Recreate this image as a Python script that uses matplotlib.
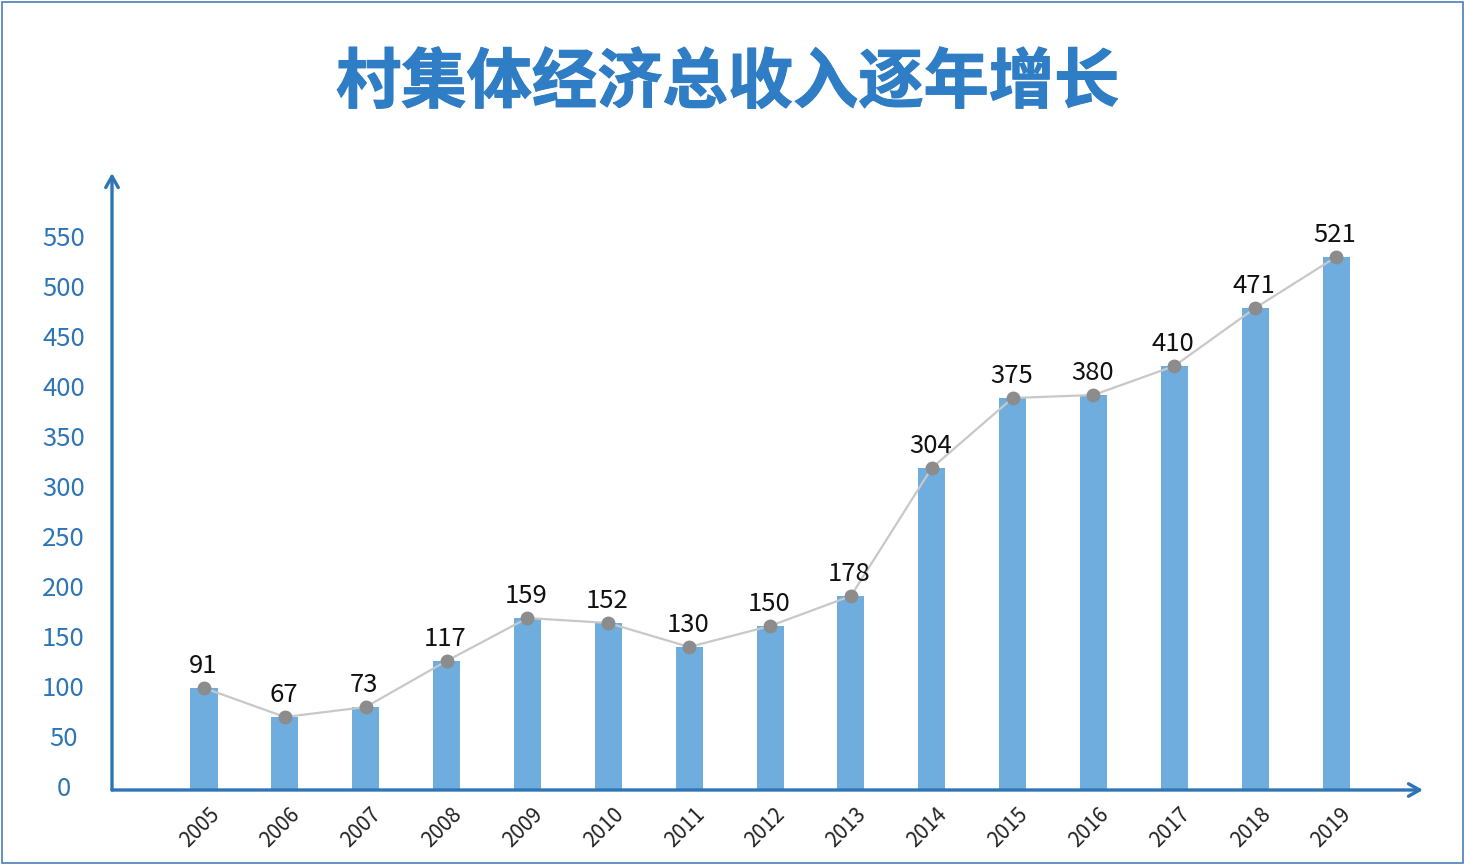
import matplotlib
matplotlib.use("Agg")
import matplotlib.pyplot as plt
import matplotlib.transforms as mtransforms
import matplotlib.patheffects as pe
from matplotlib.patches import Rectangle
import numpy as np

plt.rcParams['font.family'] = ['Noto Sans CJK SC', 'DejaVu Sans']

title = "村集体经济总收入逐年增长"
years = ["2005", "2006", "2007", "2008", "2009", "2010", "2011", "2012",
         "2013", "2014", "2015", "2016", "2017", "2018", "2019"]
# printed value labels
values = [91, 67, 73, 117, 159, 152, 130, 150, 178, 304, 375, 380, 410, 471, 521]
# bar heights as read against the y axis
bar_heights = [98, 69, 79, 125, 168, 163, 139, 160, 190, 318, 388, 391, 420, 478, 529]
yticks = list(range(0, 551, 50))

blue = '#2E75B6'
bar_col = '#6FADDE'

W, H = 1465, 865
fig = plt.figure(figsize=(W / 100, H / 100), dpi=100)
ax = fig.add_axes([112 / W, 75 / H, (1423 - 112) / W, (790 - 173) / H])

x = np.arange(len(years))
floor = -4
ax.bar(x, np.array(bar_heights) - floor, bottom=floor, width=0.335,
       color=bar_col, zorder=2)
ax.plot(x, bar_heights, color='#C8C8C8', lw=1.6, zorder=3)
ax.plot(x, bar_heights, 'o', color='#8C8C8C', ms=9, zorder=4)

for xi, h, v in zip(x, bar_heights, values):
    ax.annotate(str(v), (xi, h), xytext=(-1, 11), textcoords='offset points',
                ha='center', va='baseline', fontsize=18.5, color='#111111',
                zorder=5)

ax.set_xlim(-1.138, 15.075)
ax.set_ylim(floor, 613)

for s in ax.spines.values():
    s.set_visible(False)

ax.set_yticks(yticks)
ax.set_yticklabels([str(t) for t in yticks], fontsize=18.5, color=blue, ha='center')
ax.tick_params(axis='y', length=0, pad=35)

ax.set_xticks(x)
ax.set_xticklabels(years, rotation=45, ha='right', va='center',
                   rotation_mode='anchor', fontsize=15, color='#222222')
ax.tick_params(axis='x', length=0, pad=0)
shift = mtransforms.ScaledTranslation(12 / 100, -21 / 100, fig.dpi_scale_trans)
for lab in ax.get_xticklabels():
    lab.set_transform(lab.get_transform() + shift)

arrow = dict(arrowstyle='->,head_width=0.45,head_length=0.8', color=blue,
             lw=2.4, shrinkA=0, shrinkB=0)
ax.annotate('', xy=(0, 1), xytext=(0, 0), xycoords='axes fraction',
            arrowprops=arrow, annotation_clip=False)
ax.annotate('', xy=(1, 0), xytext=(0, 0), xycoords='axes fraction',
            arrowprops=arrow, annotation_clip=False)

fig.text(0.4966, 1 - 83 / H, title, ha='center', va='center',
         fontsize=47, fontweight='bold', color='#2F7DC4',
         path_effects=[pe.withStroke(linewidth=0.8, foreground='#2F7DC4')])

fig.add_artist(Rectangle((2 / W, 2 / H), (W - 4) / W, (H - 4) / H,
                         transform=fig.transFigure, fill=False,
                         ec='#4A7EBB', lw=1.2))

fig.savefig('out.png', dpi=100)
